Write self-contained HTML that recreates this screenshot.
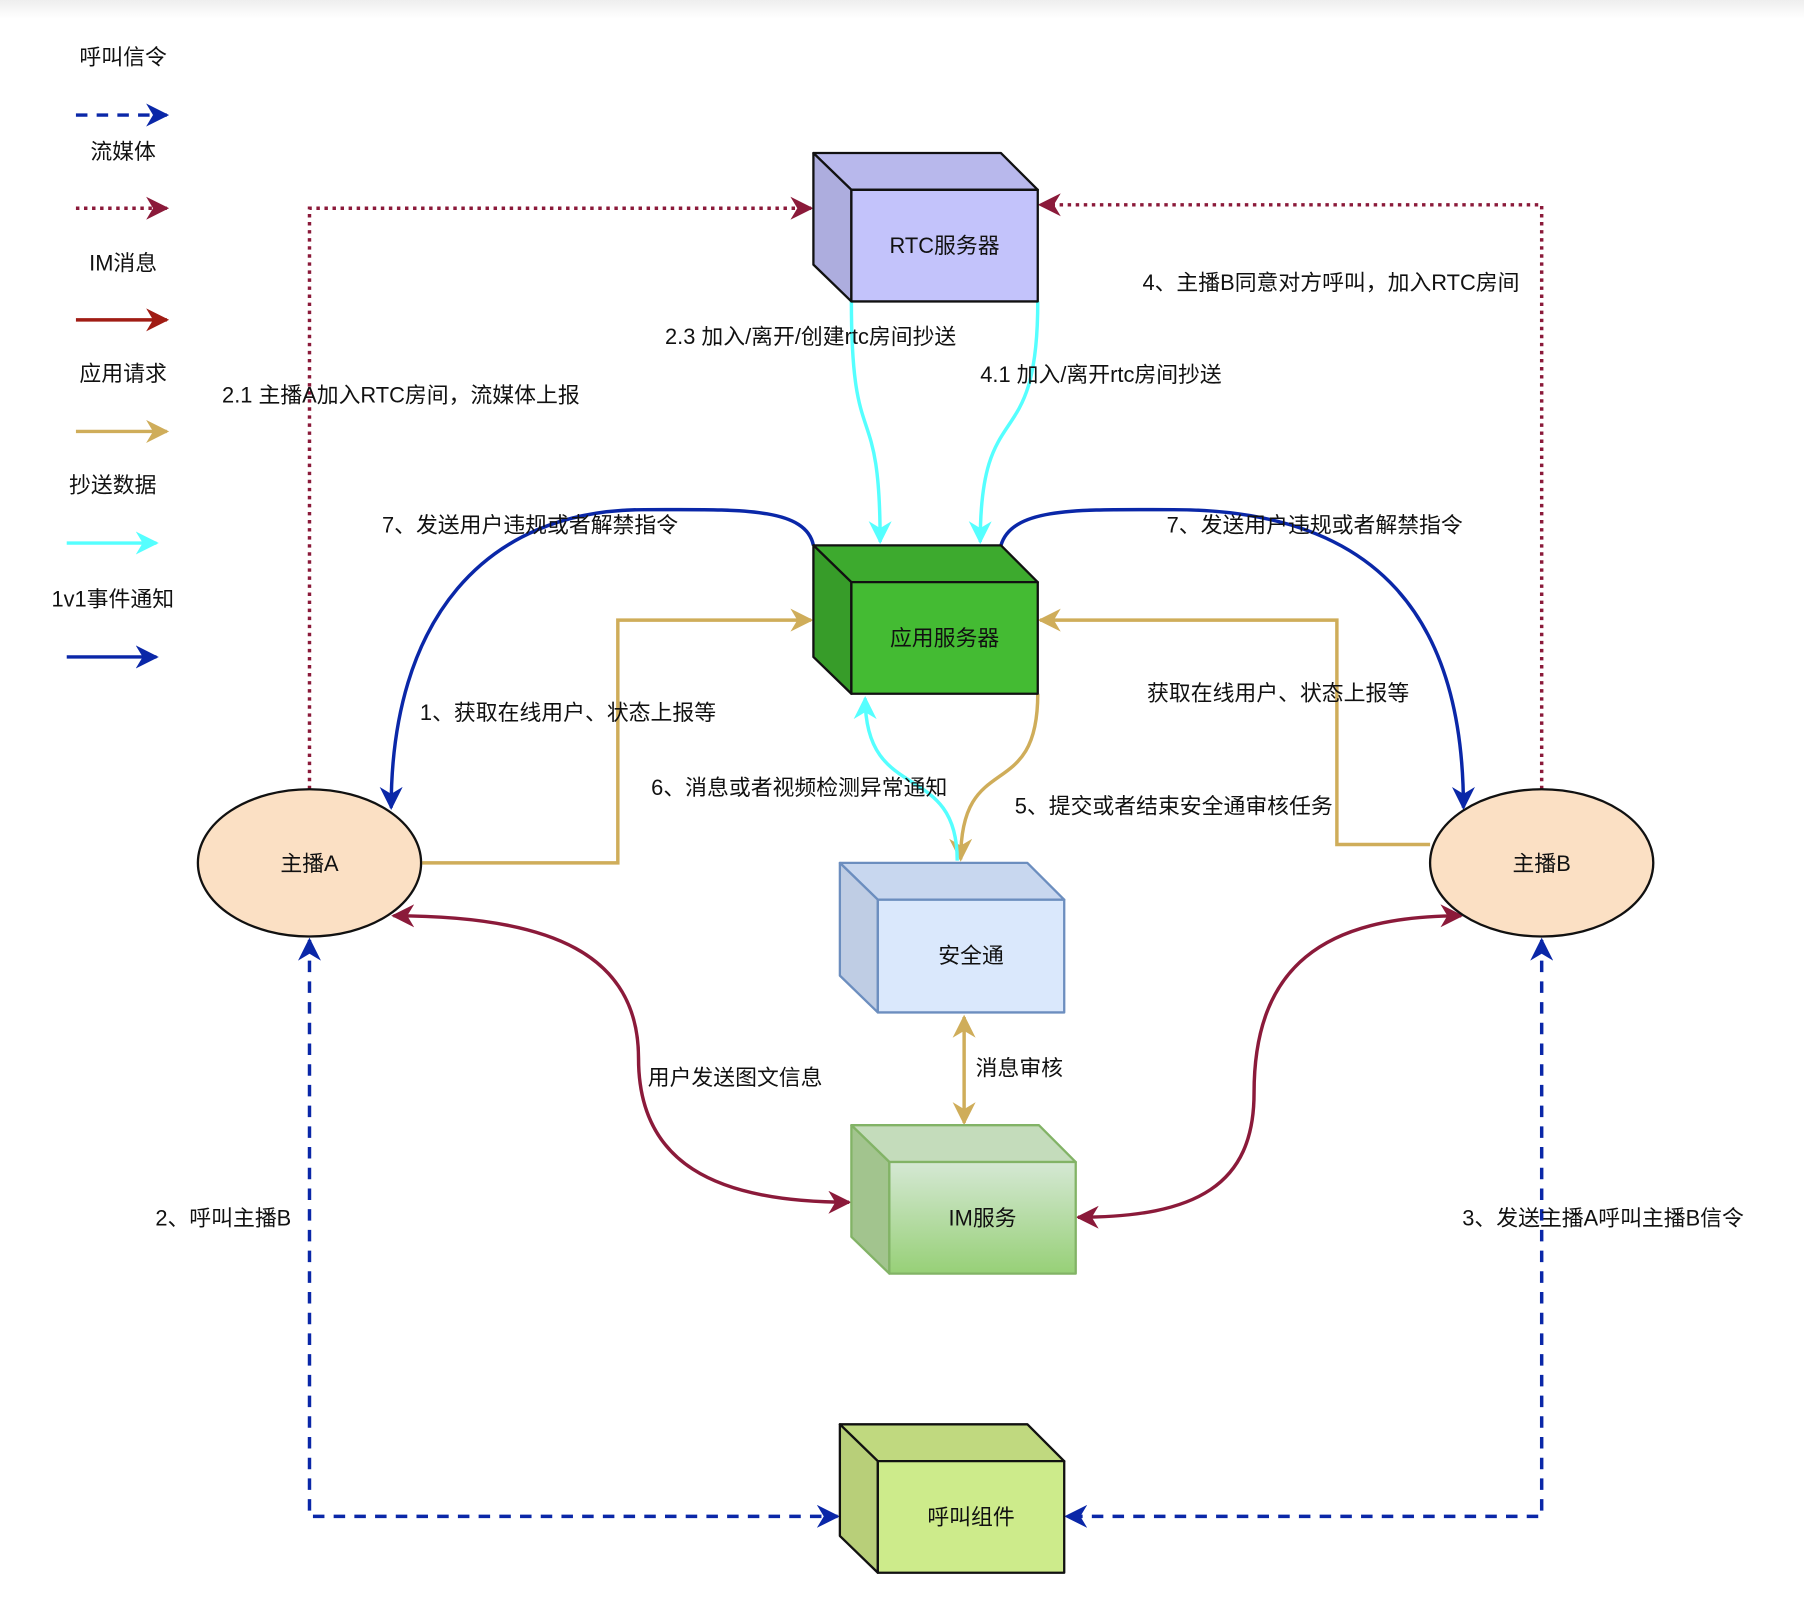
<!DOCTYPE html>
<html><head><meta charset="utf-8"><style>
html,body{margin:0;padding:0;background:#fff}
svg{display:block}
text{font-family:"Liberation Sans","Noto Sans CJK SC",sans-serif;font-size:19px;fill:#111}
</style></head><body>
<svg width="1804" height="1616" viewBox="0 0 1568 1404.6" xmlns="http://www.w3.org/2000/svg">
<defs>
<linearGradient id="top" x1="0" y1="0" x2="0" y2="1"><stop offset="0" stop-color="#eee"/><stop offset="1" stop-color="#fff"/></linearGradient>
<linearGradient id="img" x1="0" y1="0" x2="0" y2="1"><stop offset="0" stop-color="#d5e8d4"/><stop offset="1" stop-color="#97d077"/></linearGradient>
<marker id="mR" viewBox="0 0 10 10" refX="9" refY="5" markerWidth="20" markerHeight="20" orient="auto-start-reverse" markerUnits="userSpaceOnUse"><path d="M0,0 L10,5 L0,10 L3,5 z" fill="#8b1a3a"/></marker>
<marker id="mR2" viewBox="0 0 10 10" refX="9" refY="5" markerWidth="20" markerHeight="20" orient="auto-start-reverse" markerUnits="userSpaceOnUse"><path d="M0,0 L10,5 L0,10 L3,5 z" fill="#a01c14"/></marker>
<marker id="mG" viewBox="0 0 10 10" refX="9" refY="5" markerWidth="20" markerHeight="20" orient="auto-start-reverse" markerUnits="userSpaceOnUse"><path d="M0,0 L10,5 L0,10 L3,5 z" fill="#cfad5a"/></marker>
<marker id="mC" viewBox="0 0 10 10" refX="9" refY="5" markerWidth="20" markerHeight="20" orient="auto-start-reverse" markerUnits="userSpaceOnUse"><path d="M0,0 L10,5 L0,10 L3,5 z" fill="#5ff"/></marker>
<marker id="mBl" viewBox="0 0 10 10" refX="9" refY="5" markerWidth="20" markerHeight="20" orient="auto-start-reverse" markerUnits="userSpaceOnUse"><path d="M0,0 L10,5 L0,10 L3,5 z" fill="#0a27a8"/></marker>
</defs>
<rect x="0" y="0" width="1568" height="16" fill="url(#top)"/>

<g text-anchor="middle">
<text x="107" y="56">呼叫信令</text>
<text x="107" y="138">流媒体</text>
<text x="107" y="235">IM消息</text>
<text x="107" y="331">应用请求</text>
<text x="98" y="428">抄送数据</text>
<text x="98" y="527">1v1事件通知</text>
</g>
<g stroke-width="3" fill="none">
<line x1="66" y1="100" x2="145" y2="100" stroke="#0a27a8" stroke-dasharray="10,8" marker-end="url(#mBl)"/>
<line x1="66" y1="181" x2="145" y2="181" stroke="#8b1a3a" stroke-dasharray="3,4" marker-end="url(#mR)"/>
<line x1="66" y1="278" x2="145" y2="278" stroke="#a01c14" marker-end="url(#mR2)"/>
<line x1="66" y1="375" x2="145" y2="375" stroke="#cfad5a" marker-end="url(#mG)"/>
<line x1="58" y1="472" x2="136" y2="472" stroke="#5ff" marker-end="url(#mC)"/>
<line x1="58" y1="571" x2="136" y2="571" stroke="#0a27a8" marker-end="url(#mBl)"/>
</g>

<g fill="none" stroke-width="3">
<polyline points="269,686 269,181 705,181" stroke="#8b1a3a" stroke-dasharray="3,4" marker-end="url(#mR)"/>
<polyline points="1340,686 1340,178 904,178" stroke="#8b1a3a" stroke-dasharray="3,4" marker-end="url(#mR)"/>
<path d="M740,262 C740,400 765,340 765,471" stroke="#5ff" marker-end="url(#mC)"/>
<path d="M902,262 C902,400 852,340 852,471" stroke="#5ff" marker-end="url(#mC)"/>
<path d="M707,474 C700,440 640,443 560,443 C420,443 340,540 340,702" stroke="#0a27a8" marker-end="url(#mBl)"/>
<path d="M870,474 C880,440 940,443 1020,443 C1200,443 1272,540 1272,702" stroke="#0a27a8" marker-end="url(#mBl)"/>
<polyline points="367,750 537,750 537,539 705,539" stroke="#cfad5a" marker-end="url(#mG)"/>
<polyline points="1243,734 1162,734 1162,539 904,539" stroke="#cfad5a" marker-end="url(#mG)"/>
<path d="M902,603 C902,700 835,650 835,747" stroke="#cfad5a" marker-end="url(#mG)"/>
<path d="M832,748 C832,660 752,700 752,607" stroke="#5ff" marker-end="url(#mC)"/>
<line x1="838" y1="884" x2="838" y2="976" stroke="#cfad5a" marker-start="url(#mG)" marker-end="url(#mG)"/>
<path d="M342,796 C480,796 555,830 555,920 C555,1010 620,1045 738,1045" stroke="#8b1a3a" marker-start="url(#mR)" marker-end="url(#mR)"/>
<path d="M937,1058 C1040,1058 1090,1030 1090,950 C1090,840 1150,796 1270,796" stroke="#8b1a3a" marker-start="url(#mR)" marker-end="url(#mR)"/>
<polyline points="269,817 269,1318 728,1318" stroke="#0a27a8" stroke-dasharray="10,8" marker-start="url(#mBl)" marker-end="url(#mBl)"/>
<polyline points="1340,817 1340,1318 927,1318" stroke="#0a27a8" stroke-dasharray="10,8" marker-start="url(#mBl)" marker-end="url(#mBl)"/>
</g>

<g stroke-width="2" stroke-linejoin="round">
<g stroke="#111">
<polygon points="707,133 870,133 902,165 740,165" fill="#b8b8ec"/>
<polygon points="707,133 740,165 740,262 707,230" fill="#adadde"/>
<rect x="740" y="165" width="162" height="97" fill="#c3c3fb"/>
</g>
<g stroke="#111">
<polygon points="707,474 870,474 902,506 740,506" fill="#3daa2e"/>
<polygon points="707,474 740,506 740,603 707,571" fill="#379c29"/>
<rect x="740" y="506" width="162" height="97" fill="#44bb33"/>
</g>
<g stroke="#6c8ebf">
<polygon points="730,750 893,750 925,782 763,782" fill="#c8d7ef"/>
<polygon points="730,750 763,782 763,880 730,848" fill="#bfcde4"/>
<rect x="763" y="782" width="162" height="98" fill="#dae8fc"/>
</g>
<g stroke="#82b366">
<polygon points="740,978 903,978 935,1010 773,1010" fill="#c4dcbb"/>
<polygon points="740,978 773,1010 773,1107 740,1075" fill="#a2c48e"/>
<rect x="773" y="1010" width="162" height="97" fill="url(#img)"/>
</g>
<g stroke="#111">
<polygon points="730,1238 893,1238 925,1270 763,1270" fill="#c0d97f"/>
<polygon points="730,1238 763,1270 763,1367 730,1335" fill="#b8cf79"/>
<rect x="763" y="1270" width="162" height="97" fill="#cdeb8b"/>
</g>
<ellipse cx="269" cy="750" rx="97" ry="64" fill="#fbe0c4" stroke="#111"/>
<ellipse cx="1340" cy="750" rx="97" ry="64" fill="#fbe0c4" stroke="#111"/>
</g>
<g text-anchor="middle">
<text x="821" y="220">RTC服务器</text>
<text x="821" y="561">应用服务器</text>
<text x="844" y="837">安全通</text>
<text x="854" y="1065">IM服务</text>
<text x="844" y="1325">呼叫组件</text>
<text x="269" y="757">主播A</text>
<text x="1340" y="757">主播B</text>
</g>

<text x="193" y="350">2.1 主播A加入RTC房间，流媒体上报</text>
<text x="578" y="299">2.3 加入/离开/创建rtc房间抄送</text>
<text x="852" y="332">4.1 加入/离开rtc房间抄送</text>
<text x="993" y="252">4、主播B同意对方呼叫，加入RTC房间</text>
<text x="332" y="463">7、发送用户违规或者解禁指令</text>
<text x="1014" y="463">7、发送用户违规或者解禁指令</text>
<text x="365" y="626">1、获取在线用户、状态上报等</text>
<text x="997" y="609">获取在线用户、状态上报等</text>
<text x="566" y="691">6、消息或者视频检测异常通知</text>
<text x="882" y="707">5、提交或者结束安全通审核任务</text>
<text x="848" y="935">消息审核</text>
<text x="563" y="943">用户发送图文信息</text>
<text x="135" y="1065">2、呼叫主播B</text>
<text x="1271" y="1065">3、发送主播A呼叫主播B信令</text>
</svg>
</body></html>
